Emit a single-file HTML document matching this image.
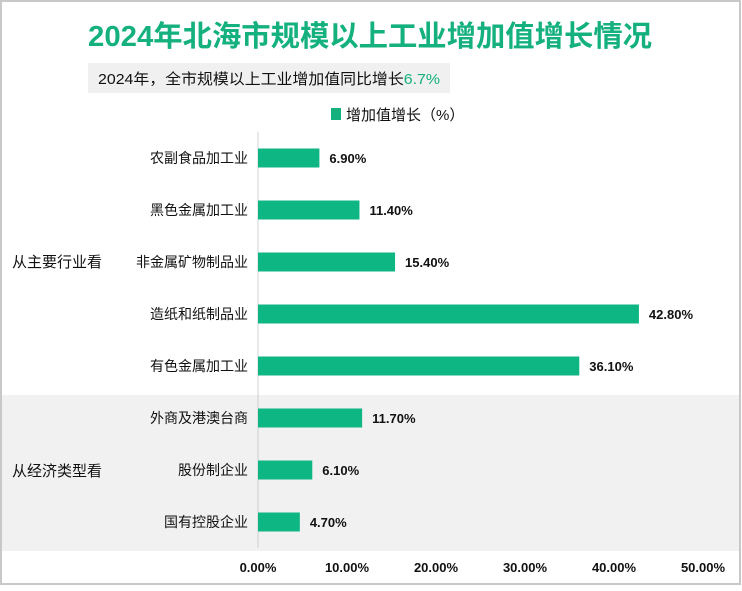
<!DOCTYPE html>
<html><head><meta charset="utf-8"><style>
body{margin:0;background:#fff;}
svg text{font-family:"Liberation Sans","Noto Sans CJK SC",sans-serif;}
</style></head><body>
<svg width="742" height="586" xmlns="http://www.w3.org/2000/svg">
<rect x="1" y="1" width="739" height="583" fill="#fff" stroke="#c8c8c8" stroke-width="2"/>
<rect x="2" y="395" width="737" height="156" fill="#f1f1f1"/>
<text x="88" y="46" textLength="564" lengthAdjust="spacingAndGlyphs" font-size="29" font-weight="bold" fill="#14b07e">2024年北海市规模以上工业增加值增长情况</text>
<rect x="88" y="63" width="362" height="30" fill="#f0f0f0"/>
<text x="98" y="84" textLength="342" lengthAdjust="spacingAndGlyphs" font-size="15" fill="#111">2024年，全市规模以上工业增加值同比增长<tspan fill="#14b07e">6.7%</tspan></text>
<rect x="331" y="108" width="10" height="12" fill="#14b07e"/>
<text x="346" y="120" font-size="15" fill="#111">增加值增长（%）</text>
<line x1="258" y1="132" x2="258" y2="548" stroke="#d0d0d0"/>
<text x="12" y="267" font-size="15" fill="#111">从主要行业看</text>
<text x="12" y="476" font-size="15" fill="#111">从经济类型看</text>
<g id="bars"></g>
<g id="ticks"></g>
</svg>
<script>
const categories=["农副食品加工业","黑色金属加工业","非金属矿物制品业","造纸和纸制品业","有色金属加工业","外商及港澳台商","股份制企业","国有控股企业"];
const values=[6.9,11.4,15.4,42.8,36.1,11.7,6.1,4.7];
const tickValues=[0,10,20,30,40,50];
const x=v=>258+v*8.9;
const y=i=>158+i*52;
const NS="http://www.w3.org/2000/svg";
const bars=document.getElementById('bars');
categories.forEach((c,i)=>{
 const r=document.createElementNS(NS,'rect');
 r.setAttribute('x',x(0));r.setAttribute('y',y(i)-9.5);
 r.setAttribute('width',x(values[i])-x(0));r.setAttribute('height',19);r.setAttribute('fill','#0db682');
 
 
 bars.appendChild(r);
 const l=document.createElementNS(NS,'text');
 l.setAttribute('x',248);l.setAttribute('y',y(i)+5);l.setAttribute('text-anchor','end');l.setAttribute('font-size','14');l.setAttribute('fill','#111');
 l.textContent=c;
 
 
 bars.appendChild(l);
 const v=document.createElementNS(NS,'text');
 v.setAttribute('x',x(values[i])+10);v.setAttribute('y',y(i)+5);v.setAttribute('font-size','13');v.setAttribute('font-weight','bold');v.setAttribute('fill','#111');
 v.textContent=values[i].toFixed(2)+'%';
 
 
 bars.appendChild(v);
});
const ticks=document.getElementById('ticks');
tickValues.forEach(t=>{
 const e=document.createElementNS(NS,'text');
 e.setAttribute('x',x(t));e.setAttribute('y',572);e.setAttribute('text-anchor','middle');e.setAttribute('font-size','13');e.setAttribute('font-weight','bold');e.setAttribute('fill','#111');
 e.textContent=t.toFixed(2)+'%';
 
 
 ticks.appendChild(e);
});
</script>
</body></html>
